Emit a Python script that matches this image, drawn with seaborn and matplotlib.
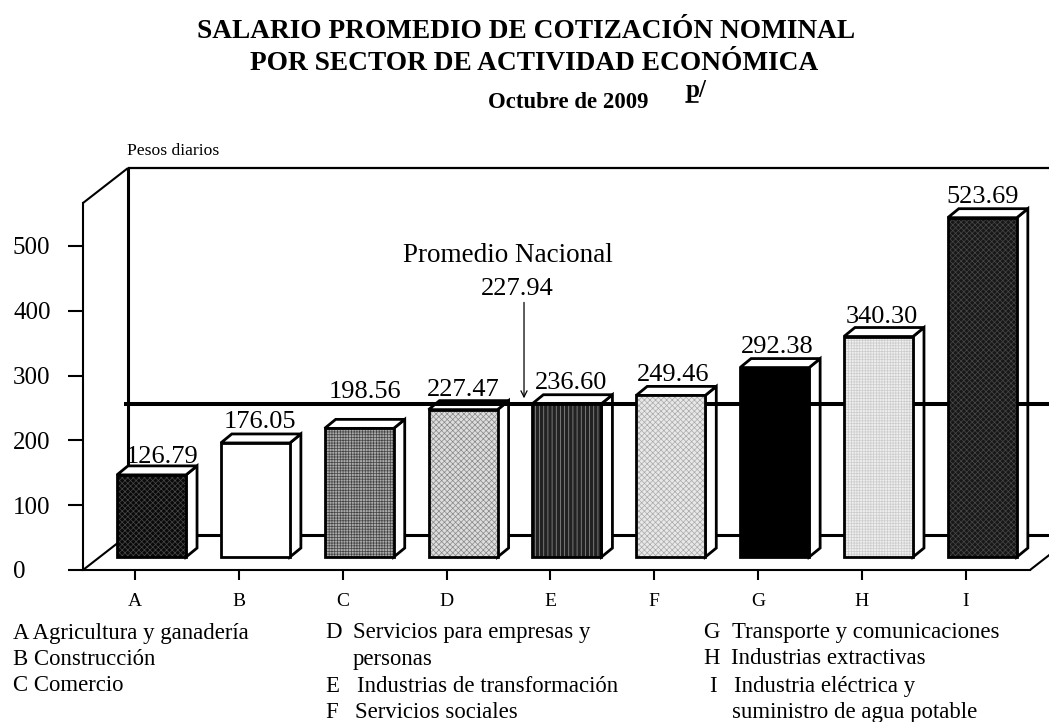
import matplotlib
matplotlib.use("Agg")
import matplotlib.pyplot as plt
import numpy as np
import pandas as pd
import seaborn as sns

# Datos
sectores = ["A", "B", "C", "D", "E", "F", "G", "H", "I"]
salarios = [126.79, 176.05, 198.56, 227.47, 236.60, 249.46, 292.38, 340.30, 523.69]
promedio = 227.94
marcas_y = [0, 100, 200, 300, 400, 500]

# Estilo de cada barra
rellenos = ["#0a0a0a", "#ffffff", "#aaaaaa", "#dddddd", "#222222", "#e8e8e8", "#000000", "#eeeeee", "#181818"]
color_trama = ["#484848", "#ffffff", "#444444", "#888888", "#999999", "#aaaaaa", "#000000", "#cccccc", "#484848"]
tramas = ["xxxxxx", "", "++++++", "xxxxxx", "||||", "xxxxxx", "", "++++++", "xxxxxx"]
# Ajuste de cada etiqueta (pixeles)
etiq_dx = [11, 5, 6, 0, 4, 2, 3, 3, 0]
etiq_dy = [12, 15, 30, 14, 15, 14, 15, 14, 15]

W, H = 1049, 722
PX_VALOR = 0.648   # pixeles por unidad de y
PX_CAT = 103.85    # pixeles por categoria
BASE = 20          # las barras arrancan arriba del piso
PROF_X, PROF_Y = 11 / PX_CAT, 9 / PX_VALOR       # profundidad de barras
PARED_X, PARED_Y = 45 / PX_CAT, 35 / PX_VALOR    # profundidad del cuadro
DESFASE = 16.5 / PX_CAT                          # marcas vs barras

sns.set_style("white")
plt.rcParams["font.family"] = ["Liberation Serif", "DejaVu Serif"]
plt.rcParams["text.color"] = "black"
plt.rcParams["xtick.color"] = "black"
plt.rcParams["ytick.color"] = "black"
plt.rcParams["hatch.linewidth"] = 0.5


def fx(x):
    return x / W


def fy(y):
    return 1 - y / H


fig = plt.figure(figsize=(W / 100, H / 100), dpi=100)
ax = fig.add_axes([fx(83), fy(570), (1030 - 83) / W, (570 - 203) / H])
ax.patch.set_alpha(0)

df = pd.DataFrame({"sector": sectores, "salario": salarios})
sns.barplot(data=df, x="sector", y="salario", hue="sector", palette=rellenos,
            width=0.665, bottom=BASE, linewidth=0,
            saturation=1, legend=False, zorder=5, ax=ax)

ax.set_xlim((83 - 151.5) / PX_CAT, (1030 - 151.5) / PX_CAT)
ax.set_ylim(0, 367 / PX_VALOR)
x0, x1 = ax.get_xlim()
y1 = ax.get_ylim()[1]

# Cuadro de fondo
linea = dict(color="black", clip_on=False, solid_capstyle="butt")
fin = x1 + 1
ax.plot([x0 + PARED_X] * 2, [PARED_Y, y1 + PARED_Y], lw=2.2, zorder=1, **linea)
ax.plot([x0 + PARED_X, fin], [y1 + PARED_Y] * 2, lw=1.6, zorder=1, **linea)
ax.plot([x0 + PARED_X, fin], [PARED_Y] * 2, lw=2.2, zorder=1, **linea)
ax.plot([x0, x0 + PARED_X], [0, PARED_Y], lw=1.5, zorder=1, **linea)
ax.plot([x0, x0 + PARED_X], [y1, y1 + PARED_Y], lw=1.5, zorder=1, **linea)
ax.plot([x1, fin], [0, (fin - x1) * PARED_Y / PARED_X], lw=1.5, zorder=1, **linea)

# Caras laterales y superiores de las barras
for i, barra in enumerate(ax.patches):
    # el color del borde define el de la trama, el contorno va aparte
    barra.set_edgecolor(color_trama[i])
    barra.set_hatch(tramas[i])
    izq, der = barra.get_x(), barra.get_x() + barra.get_width()
    abajo, arriba = barra.get_y(), barra.get_y() + barra.get_height()
    ax.fill([izq, der, der, izq], [abajo, abajo, arriba, arriba],
            facecolor="none", edgecolor="black", lw=2, zorder=5.5, clip_on=False)
    ax.fill([der, der + PROF_X, der + PROF_X, der],
            [abajo, abajo + PROF_Y, arriba + PROF_Y, arriba],
            facecolor="white", edgecolor="black", lw=2, zorder=3, clip_on=False)
    ax.fill([izq, izq + PROF_X, der + PROF_X, der],
            [arriba, arriba + PROF_Y, arriba + PROF_Y, arriba],
            facecolor="white", edgecolor="black", lw=2, zorder=3, clip_on=False)
    ax.annotate(f"{salarios[i]:.2f}", xy=((izq + der) / 2, arriba),
                xytext=(etiq_dx[i] * 0.72, etiq_dy[i] * 0.72), textcoords="offset points",
                ha="center", va="baseline", fontsize=19, color="black", zorder=6,
                annotation_clip=False)

# Linea del promedio nacional
ax.plot([x0 + 41 / PX_CAT, fin], [promedio + BASE + 8] * 2, lw=2.9, zorder=4, **linea)
ax.annotate("", xy=(3.587, promedio + BASE + 17), xytext=(3.587, promedio + BASE + 165),
            arrowprops=dict(arrowstyle="->", color="black", lw=0.9, mutation_scale=11,
                            shrinkA=0, shrinkB=0), zorder=6)
ax.text(3.43, promedio + BASE + 228, "Promedio Nacional", ha="center", va="baseline", fontsize=19.5)
ax.text(3.525, promedio + BASE + 176, f"{promedio:.2f}", ha="center", va="baseline", fontsize=19)

# Ejes
sns.despine(ax=ax)
for lado in ["left", "bottom"]:
    ax.spines[lado].set_linewidth(1.5)
    ax.spines[lado].set_color("black")
ax.set_xlabel("")
ax.set_ylabel("")
ax.set_yticks(marcas_y)
ax.set_yticklabels([str(v) for v in marcas_y], ha="left", fontsize=18)
ax.tick_params(axis="y", left=True, length=10.8, width=1.5, pad=39.6)
ax.set_xticks(np.arange(len(sectores)) - DESFASE)
ax.set_xticklabels(sectores, fontsize=14)
ax.tick_params(axis="x", bottom=True, length=7.2, width=1.5, pad=9)

# Titulos
fig.text(fx(526.5), fy(38), "SALARIO PROMEDIO DE COTIZACIÓN NOMINAL", ha="center", va="baseline",
         fontsize=19.7, fontweight="bold")
fig.text(fx(534), fy(70), "POR SECTOR DE ACTIVIDAD ECONÓMICA", ha="center", va="baseline",
         fontsize=19.7, fontweight="bold")
fig.text(fx(568), fy(108), "Octubre de 2009", ha="center", va="baseline", fontsize=16.4, fontweight="bold")
fig.text(fx(686), fy(97), "p/", ha="left", va="baseline", fontsize=18, fontweight="bold")
fig.add_artist(plt.Line2D([fx(686), fx(698)], [fy(102), fy(102)], color="black", lw=1.2))
fig.text(fx(127), fy(155), "Pesos diarios", ha="left", va="baseline", fontsize=12.6)

# Leyenda de sectores
leyenda = [
    (13, 639, "A Agricultura y ganadería"),
    (13, 665, "B Construcción"),
    (13, 691, "C Comercio"),
    (325, 638, "D"), (353, 638, "Servicios para empresas y"),
    (353, 665, "personas"),
    (325, 692, "E"), (357, 692, "Industrias de transformación"),
    (325, 718, "F"), (355, 718, "Servicios sociales"),
    (703, 638, "G"), (732, 638, "Transporte y comunicaciones"),
    (703, 664, "H"), (731, 664, "Industrias extractivas"),
    (709, 692, "I"), (734, 692, "Industria eléctrica y"),
    (732, 718, "suministro de agua potable"),
]
for x, y, texto in leyenda:
    fig.text(fx(x), fy(y), texto, ha="left", va="baseline", fontsize=16.4)

fig.savefig("out.png", dpi=100)
